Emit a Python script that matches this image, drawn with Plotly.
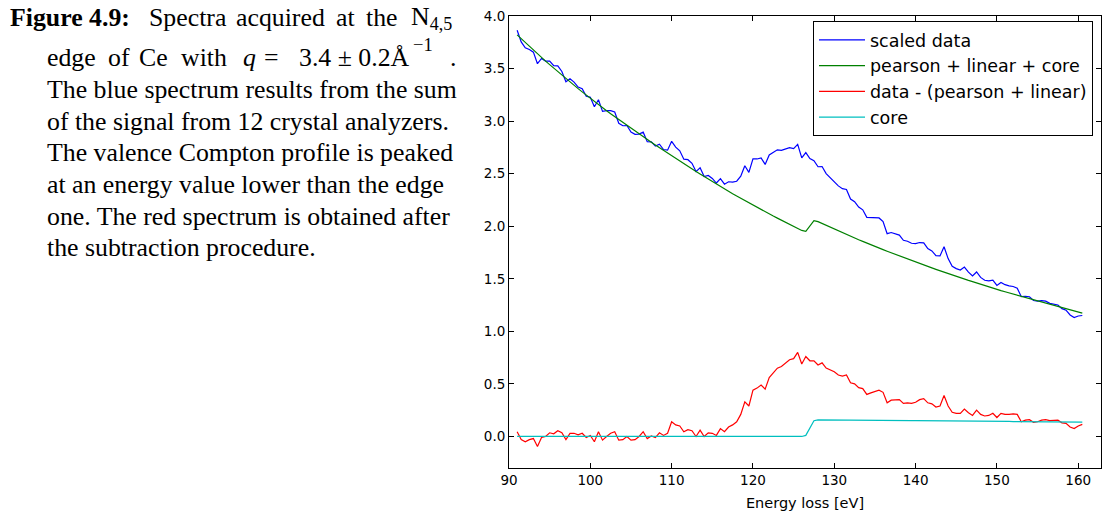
import numpy as np
import plotly.graph_objects as go

# Energy-loss grid of the spectrum (eV), 0.5 eV sampling
energy = np.round(np.arange(91.0, 160.51, 0.5), 1)

# Pearson + linear background (valence Compton fit without the core edge)
background = [
    3.820, 3.783, 3.747, 3.711, 3.676, 3.641, 3.606, 3.571, 3.537, 3.503,  # 91.0
    3.470, 3.437, 3.405, 3.373, 3.341, 3.309, 3.278, 3.247, 3.217, 3.187,  # 96.0
    3.158, 3.128, 3.099, 3.070, 3.042, 3.014, 2.986, 2.958, 2.931, 2.904,  # 101.0
    2.877, 2.850, 2.824, 2.798, 2.772, 2.746, 2.720, 2.694, 2.668, 2.643,  # 106.0
    2.618, 2.593, 2.568, 2.544, 2.520, 2.496, 2.472, 2.448, 2.425, 2.401,  # 111.0
    2.378, 2.355, 2.333, 2.310, 2.288, 2.266, 2.245, 2.223, 2.202, 2.180,  # 116.0
    2.159, 2.138, 2.118, 2.097, 2.077, 2.057, 2.038, 2.018, 1.999, 1.979,  # 121.0
    1.960, 1.941, 1.923, 1.904, 1.886, 1.868, 1.851, 1.833, 1.816, 1.799,  # 126.0
    1.782, 1.765, 1.749, 1.733, 1.717, 1.701, 1.685, 1.669, 1.654, 1.639,  # 131.0
    1.624, 1.609, 1.595, 1.580, 1.566, 1.551, 1.537, 1.523, 1.509, 1.495,  # 136.0
    1.482, 1.468, 1.455, 1.441, 1.428, 1.415, 1.402, 1.389, 1.377, 1.364,  # 141.0
    1.352, 1.339, 1.327, 1.315, 1.303, 1.291, 1.280, 1.268, 1.257, 1.245,  # 146.0
    1.234, 1.223, 1.212, 1.201, 1.190, 1.179, 1.169, 1.158, 1.148, 1.137,  # 151.0
    1.127, 1.116, 1.106, 1.096, 1.086, 1.076, 1.066, 1.056, 1.046, 1.036,  # 156.0
]

# data - (pearson + linear)
residual = [
    0.045, -0.030, -0.050, -0.030, -0.020, -0.095, -0.010, 0.000, 0.035, 0.025,  # 91.0
    0.055, 0.035, -0.030, 0.030, 0.030, 0.015, 0.030, -0.010, 0.010, -0.050,     # 96.0
    0.045, -0.035, 0.000, 0.030, 0.045, -0.035, -0.030, 0.000, -0.035, -0.030,   # 101.0
    0.000, 0.045, -0.020, 0.005, -0.010, 0.035, 0.010, 0.030, 0.140, 0.110,      # 106.0
    0.100, 0.045, 0.065, 0.055, 0.000, 0.060, 0.000, 0.035, 0.030, 0.010,        # 111.0
    0.075, 0.045, 0.090, 0.110, 0.140, 0.210, 0.330, 0.290, 0.440, 0.460,        # 116.0
    0.490, 0.450, 0.560, 0.610, 0.650, 0.665, 0.700, 0.730, 0.740, 0.800,        # 121.0
    0.690, 0.760, 0.720, 0.720, 0.680, 0.700, 0.650, 0.630, 0.615, 0.585,        # 126.0
    0.575, 0.585, 0.510, 0.500, 0.465, 0.455, 0.400, 0.415, 0.425, 0.440,        # 131.0
    0.420, 0.320, 0.345, 0.345, 0.350, 0.315, 0.320, 0.315, 0.325, 0.350,        # 136.0
    0.360, 0.320, 0.310, 0.280, 0.290, 0.390, 0.290, 0.230, 0.220, 0.220,        # 141.0
    0.260, 0.225, 0.200, 0.250, 0.210, 0.195, 0.200, 0.220, 0.180, 0.220,        # 146.0
    0.210, 0.210, 0.215, 0.210, 0.140, 0.155, 0.160, 0.135, 0.140, 0.155,        # 151.0
    0.160, 0.150, 0.155, 0.155, 0.130, 0.125, 0.090, 0.075, 0.100, 0.115,        # 156.0
]

# Core (N4,5 edge) contribution
core = [
    0.000, 0.000, 0.000, 0.000, 0.000, 0.000, 0.000, 0.000, 0.000, 0.000,  # 91.0
    0.000, 0.000, 0.000, 0.000, 0.000, 0.000, 0.000, 0.000, 0.000, 0.000,  # 96.0
    0.000, 0.000, 0.000, 0.000, 0.000, 0.000, 0.000, 0.000, 0.000, 0.000,  # 101.0
    0.000, 0.000, 0.000, 0.000, 0.000, 0.000, 0.000, 0.000, 0.000, 0.000,  # 106.0
    0.000, 0.000, 0.000, 0.000, 0.000, 0.000, 0.000, 0.000, 0.000, 0.000,  # 111.0
    0.000, 0.000, 0.000, 0.000, 0.000, 0.000, 0.000, 0.000, 0.000, 0.000,  # 116.0
    0.000, 0.000, 0.000, 0.000, 0.000, 0.000, 0.000, 0.000, 0.000, 0.000,  # 121.0
    0.000, 0.010, 0.085, 0.150, 0.158, 0.158, 0.157, 0.157, 0.157, 0.157,  # 126.0
    0.156, 0.156, 0.155, 0.155, 0.155, 0.155, 0.154, 0.154, 0.154, 0.153,  # 131.0
    0.153, 0.153, 0.152, 0.152, 0.152, 0.151, 0.151, 0.151, 0.150, 0.150,  # 136.0
    0.150, 0.149, 0.149, 0.149, 0.148, 0.148, 0.148, 0.147, 0.147, 0.147,  # 141.0
    0.146, 0.146, 0.146, 0.145, 0.145, 0.145, 0.144, 0.144, 0.144, 0.143,  # 146.0
    0.143, 0.143, 0.142, 0.142, 0.142, 0.141, 0.141, 0.141, 0.140, 0.140,  # 151.0
    0.140, 0.139, 0.139, 0.139, 0.138, 0.138, 0.138, 0.137, 0.137, 0.137,  # 156.0
]

x_ticks = [90, 100, 110, 120, 130, 140, 150, 160]
y_ticks = [0.0, 0.5, 1.0, 1.5, 2.0, 2.5, 3.0, 3.5, 4.0]

background = np.array(background)
residual = np.array(residual)
core = np.array(core)
scaled_data = background + residual
fit_total = background + core

W, H = 1102, 515
ML, MR, MT, MB = 509, 1, 16, 47
PW, PH = W - ML - MR, H - MT - MB

fig = go.Figure()
series = [
    ("scaled data", scaled_data, "#0000ff"),
    ("pearson + linear + core", fit_total, "#008000"),
    ("data - (pearson + linear)", residual, "#ff0000"),
    ("core", core, "#00bfbf"),
]
for name, yv, col in series:
    fig.add_trace(go.Scatter(x=energy, y=yv, mode="lines", name=name,
                             line=dict(color=col, width=1.2)))

tick_font = dict(family="DejaVu Sans", size=13.5, color="#000000")
axis_common = dict(showline=True, linecolor="#000000", linewidth=1, mirror="allticks",
                   ticks="inside", ticklen=5, tickcolor="#000000", tickwidth=1,
                   showgrid=False, zeroline=False, tickfont=tick_font)

fig.update_xaxes(range=[90, 162.8], tickvals=x_ticks,
                 title=dict(text="Energy loss [eV]", standoff=10,
                            font=dict(family="DejaVu Sans", size=14.5, color="#000000")),
                 **axis_common)
fig.update_yaxes(range=[-0.3, 4.0], tickvals=y_ticks, tickformat=".1f", **axis_common)

# Figure caption set beside the plot: (text, left edge px, baseline px, font size)
cap_family = "Liberation Serif, Times New Roman, serif"
CAP = 25.8
caption = [
    ("<b>Figure 4.9:</b>", 9, 24, CAP), ("Spectra", 148, 24, CAP), ("acquired", 235, 24, CAP),
    ("at", 335, 24, CAP), ("the", 365, 24, CAP), ("N<sub>4,5</sub>", 410, 24, CAP),
    ("edge", 46, 64, CAP), ("of", 107, 64, CAP), ("Ce", 138, 64, CAP), ("with", 180, 64, CAP),
    ("<i>q</i>", 242, 64, CAP), ("=", 263, 64, CAP), ("3.4 ± 0.2Å", 298, 64, CAP),
    ("−1", 412, 49, 18.5), (".", 449, 64, CAP),
    ("The blue spectrum results from the sum", 46, 95.7, CAP),
    ("of the signal from 12 crystal analyzers.", 46, 127.3, CAP),
    ("The valence Compton profile is peaked", 46, 159, CAP),
    ("at an energy value lower than the edge", 46, 190.7, CAP),
    ("one. The red spectrum is obtained after", 46, 222.3, CAP),
    ("the subtraction procedure.", 46, 254, CAP),
]
for txt, xpx, base, fs in caption:
    cy = base - 0.32 * fs + 2
    fig.add_annotation(text=txt, xref="paper", yref="paper",
                       x=(xpx - ML) / PW, y=(H - MB - cy) / PH,
                       xanchor="left", yanchor="middle", showarrow=False,
                       font=dict(family=cap_family, size=fs, color="#000000"), borderpad=0)

fig.update_layout(
    width=W, height=H,
    margin=dict(l=ML, r=MR, t=MT, b=MB, pad=0),
    paper_bgcolor="#ffffff", plot_bgcolor="#ffffff",
    legend=dict(x=(1093 - ML) / PW, y=(H - MB - 21) / PH, xanchor="right", yanchor="top",
                bgcolor="#ffffff", bordercolor="#000000", borderwidth=1,
                font=dict(family="DejaVu Sans", size=17.5, color="#000000"),
                itemwidth=46, tracegroupgap=0),
    showlegend=True,
)

fig.write_html("out.html")
